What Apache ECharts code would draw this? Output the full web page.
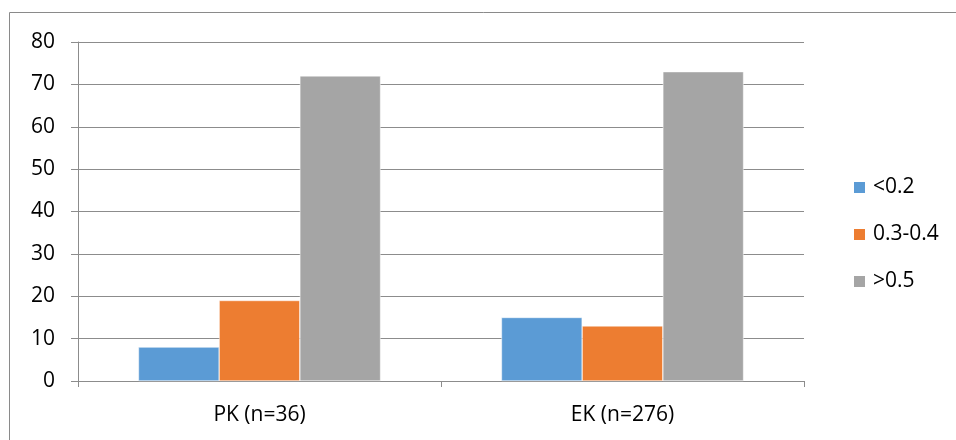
<!DOCTYPE html>
<html>
<head>
<meta charset="utf-8">
<script src="https://cdn.jsdelivr.net/npm/echarts@6/dist/echarts.min.js"></script>
<style>
  html, body { margin: 0; padding: 0; background: #fff; }
  #chart { width: 956px; height: 440px; }
</style>
</head>
<body>
<div id="chart"></div>
<script>
// Groups along the x axis
const categories = ['PK (n=36)', 'EK (n=276)'];
// Series names and values per group
const seriesNames = ['<0.2', '0.3-0.4', '>0.5'];
const lowValues = [8, 15];
const midValues = [19, 13];
const highValues = [72, 73];
const seriesColors = ['#5B9BD5', '#ED7D31', '#A5A5A5'];

const FONT = '"Open Sans", "DejaVu Sans", sans-serif';
const AXIS_GRAY = '#8C8C8C';

const chart = echarts.init(document.getElementById('chart'), null, { renderer: 'canvas' });

const valueSets = [lowValues, midValues, highValues];

chart.setOption({
  animation: false,
  backgroundColor: '#fff',
  textStyle: { fontFamily: FONT },
  graphic: [{
    type: 'rect',
    shape: { x: 9.5, y: 12.5, width: 960, height: 440 },
    style: { fill: 'none', stroke: '#8A8A8A', lineWidth: 1 },
    silent: true
  }],
  grid: { left: 78, right: 152, top: 42, bottom: 59 },
  legend: {
    orient: 'vertical',
    left: 847,
    top: 172,
    itemWidth: 13,
    itemHeight: 13,
    itemGap: 26,
    icon: 'rect',
    textStyle: { fontFamily: FONT, fontSize: 21, color: '#000', lineHeight: 21, padding: [0, 0, 0, 2] },
    data: seriesNames
  },
  xAxis: {
    type: 'category',
    data: categories,
    axisLine: { show: true, lineStyle: { color: AXIS_GRAY, width: 1 } },
    axisTick: { show: true, length: 6, lineStyle: { color: AXIS_GRAY } },
    axisLabel: { fontFamily: FONT, fontSize: 21, color: '#000', margin: 24 },
    splitLine: { show: false }
  },
  yAxis: {
    type: 'value',
    min: 0,
    max: 80,
    interval: 10,
    axisLine: { show: true, lineStyle: { color: AXIS_GRAY, width: 1 } },
    axisTick: { show: true, length: 7, lineStyle: { color: AXIS_GRAY } },
    axisLabel: { fontFamily: FONT, fontSize: 21, color: '#000', margin: 23 },
    splitLine: { show: true, lineStyle: { color: AXIS_GRAY, width: 1 } }
  },
  series: seriesNames.map((name, i) => ({
    name: name,
    type: 'bar',
    data: valueSets[i],
    barGap: '0%',
    barCategoryGap: '33.3%',
    itemStyle: { color: seriesColors[i], borderColor: '#fff', borderWidth: 0.5 }
  }))
});
</script>
</body>
</html>
